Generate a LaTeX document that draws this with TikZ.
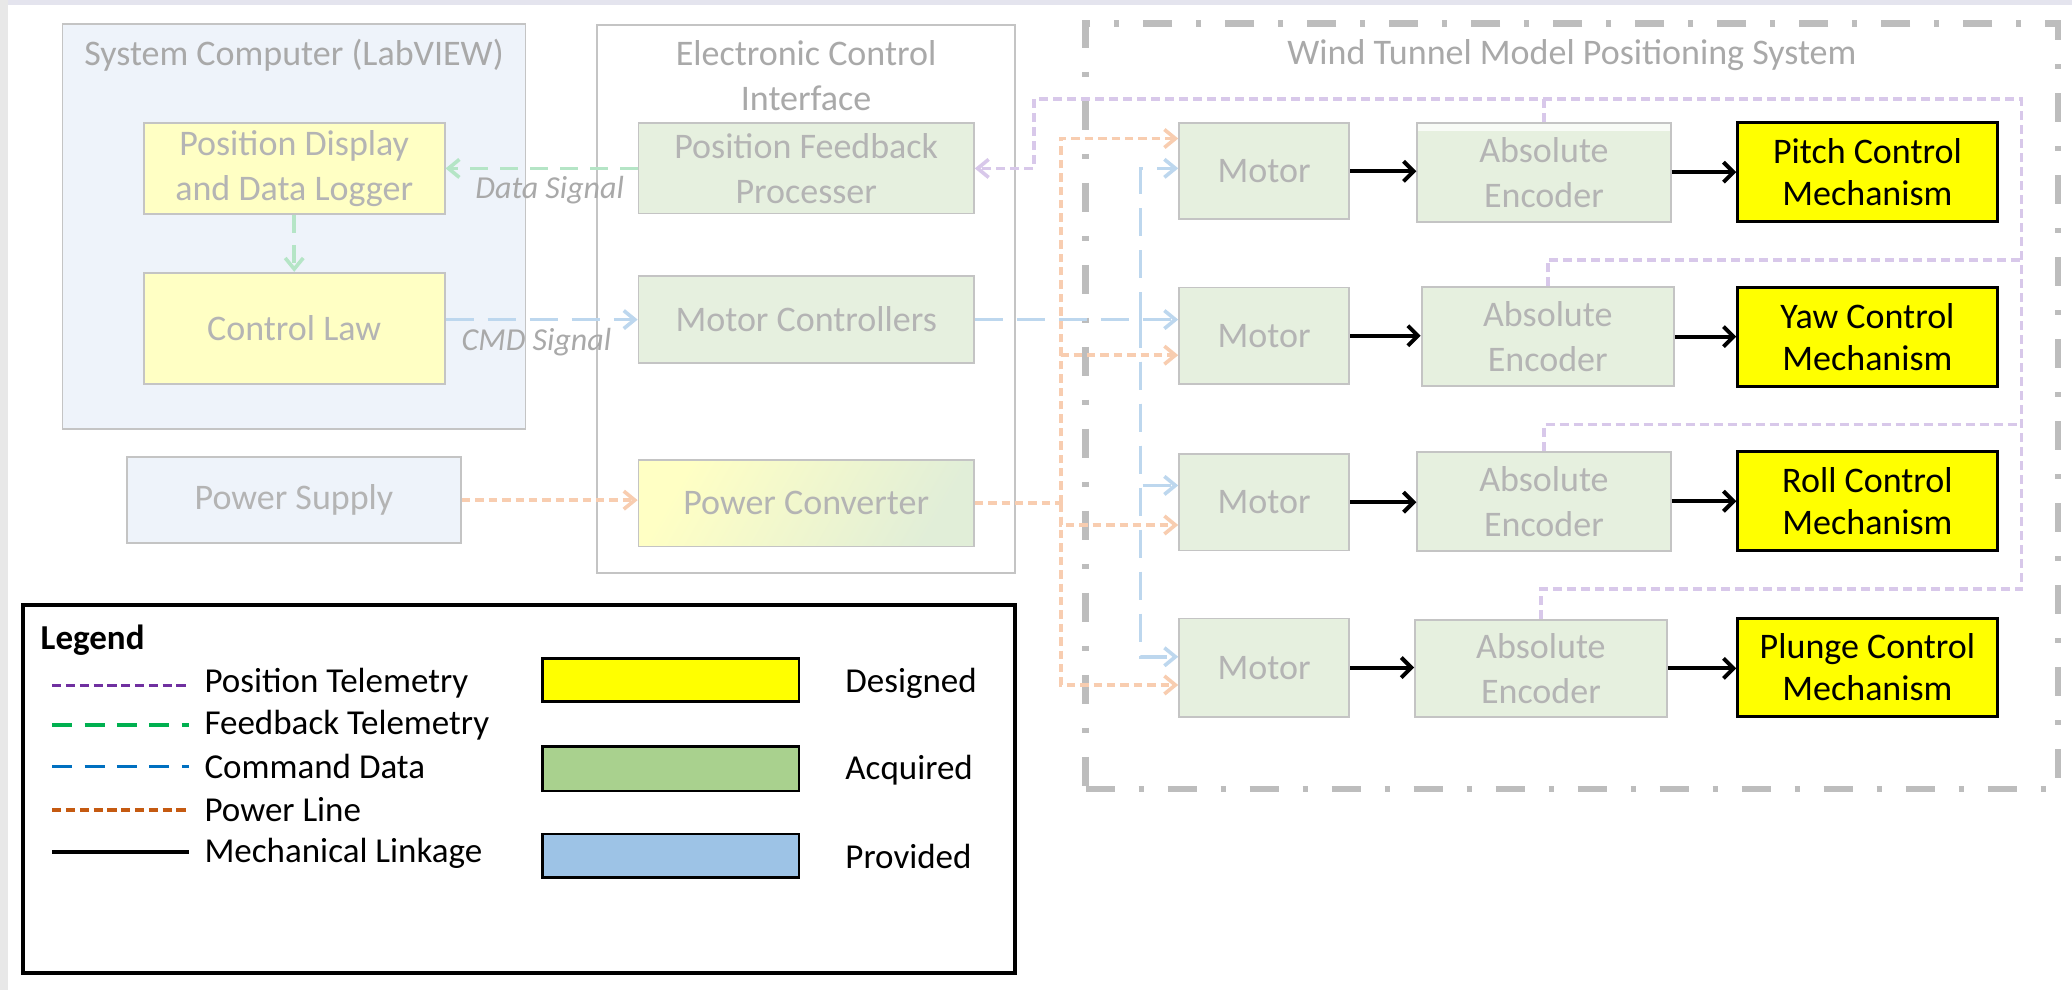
\documentclass[tikz,border=0pt]{standalone}
\usepackage{fontspec}
\setmainfont{Carlito}
\usetikzlibrary{arrows.meta,calc}

% palette
\definecolor{txtgray}{HTML}{B4B4B4}
\definecolor{ttlgray}{HTML}{A9A9A9}
\definecolor{edgegray}{HTML}{C4C4C4}
\definecolor{framegray}{HTML}{BDBDBD}
\definecolor{pcblue}{HTML}{EEF3FA}
\definecolor{ltyellow}{HTML}{FFFFC4}
\definecolor{ltgreen}{HTML}{E6F0DF}
\definecolor{gradgreen}{HTML}{E1EED8}
\definecolor{fbgreen}{HTML}{B5E5C6}
\definecolor{cmdblue}{HTML}{BDD7EE}
\definecolor{pwrorange}{HTML}{F8CDB0}
\definecolor{telpurple}{HTML}{D8C8EA}
\definecolor{legpurple}{HTML}{7030A0}
\definecolor{leggreen}{HTML}{00B050}
\definecolor{legblue}{HTML}{0070C0}
\definecolor{legorange}{HTML}{C55A11}
\definecolor{designed}{HTML}{FFFF00}
\definecolor{acquired}{HTML}{A9D18E}
\definecolor{provided}{HTML}{9DC3E6}
\definecolor{topband}{HTML}{E4E4EE}
\definecolor{sideband}{HTML}{E8E8E8}

\newcommand\dgmfont{\fontsize{18}{22.5}\selectfont}
\newcommand\mechfont{\fontsize{18}{21}\selectfont}
\newcommand\legfont{\fontsize{17.5}{21}\selectfont}

\begin{document}
\begin{tikzpicture}[x=0.6607pt,y=-0.6607pt,
  % a rectangle given by its corners x1/y1/x2/y2 in drawing units
  rect/.style args={#1/#2/#3/#4}{rectangle, inner sep=0pt,
      minimum width={(#3-#1)*0.6607pt}, minimum height={(#4-#2)*0.6607pt},
      at={({(#1+#3)/2},{(#2+#4)/2})}},
  box/.style={draw=edgegray, line width=0.9pt, inner sep=0pt, align=center,
              text=txtgray, font=\dgmfont},
  grbox/.style={box, fill=ltgreen},
  ylbox/.style={box, fill=ltyellow},
  mechbox/.style={draw=black, line width=1.4pt, fill=designed, inner sep=0pt,
                  align=center, text=black, font=\mechfont},
  ttl/.style={text=ttlgray, font=\dgmfont, align=center, inner sep=0pt},
  siglbl/.style={text=ttlgray, font=\fontsize{16}{19}\selectfont\itshape, inner sep=0pt},
  tip/.style={-{Straight Barb[length=5.5pt,width=9pt]}},
  fbl/.style={draw=fbgreen, line width=1.8pt, dash pattern=on 9pt off 6pt},
  cmdl/.style={draw=cmdblue, line width=1.8pt, dash pattern=on 14pt off 7pt},
  pwl/.style={draw=pwrorange, line width=1.8pt, dash pattern=on 4.2pt off 2.5pt},
  ptl/.style={draw=telpurple, line width=1.8pt, dash pattern=on 4.5pt off 2.5pt},
  mech/.style={draw=black, line width=2pt, -{Straight Barb[length=5pt,width=10pt]}},
  legtxt/.style={anchor=west, inner sep=0pt, font=\legfont, text=black},
  legsw/.style={draw=black, line width=1.2pt}
]
% canvas
\fill[white] (0,0) rectangle (1568,749);
\useasboundingbox (0,0) rectangle (1568,749);
\fill[topband] (0,0) rectangle (1568,3.8);
\fill[sideband] (0,0) rectangle (6,749);

% ---------- System computer ----------
\node[draw=edgegray, line width=0.9pt, fill=pcblue, rect=47.3/18.4/397.6/324.9] (sc) {};
\node[ttl] (sctitle) at (222.5,41.6) {System Computer (LabVIEW)};
\node[ylbox, rect=108.8/93.3/336.5/162] (pd) {Position Display\\and Data Logger};
\node[ylbox, rect=108.8/206.4/336.5/290.6] (cl) {Control Law};
\node[box, fill=pcblue, rect=96/346/349/411] (ps) {Power Supply};

% ---------- Electronic control interface ----------
\node[draw=edgegray, line width=0.9pt, fill=white, rect=451.8/18.8/768.4/433.6] (eci) {};
\node[ttl] (ecititle) at (610,57.2) {Electronic Control\\Interface};
\node[grbox, rect=483.2/93.3/737/161.6] (pfp) {Position Feedback\\Processer};
\node[grbox, rect=483.2/209.1/737/274.6] (mc) {Motor Controllers};
\node[box, left color=ltyellow, right color=gradgreen, shading angle=60,
      rect=483.2/348.1/737/413.6] (pc) {Power Converter};

% ---------- Wind tunnel model positioning system ----------
\node[draw=framegray, line width=3.2pt,
      dash pattern=on 14.5pt off 12pt on 2.5pt off 12pt,
      rect=821.6/17.7/1557.4/597.3] (wt) {};
\node[ttl] (wttitle) at (1189.6,41.6) {Wind Tunnel Model Positioning System};

\node[grbox, rect=892.3/93.3/1021/166] (m1) {Motor};
\node[grbox, rect=892.3/217.6/1021/290.6] (m2) {Motor};
\node[grbox, rect=892.3/343.5/1021/416.6] (m3) {Motor};
\node[grbox, rect=892.3/468/1021/542.4] (m4) {Motor};

\node[grbox, rect=1072.5/92.8/1264.3/167.8] (e1) {Absolute\\Encoder};
\fill[white, opacity=0.75] (1073.2,93.5) rectangle (1263.6,99.5);
\node[grbox, rect=1075.8/217.4/1266.8/292.1] (e2) {Absolute\\Encoder};
\node[grbox, rect=1072.5/341.8/1264.3/416.8] (e3) {Absolute\\Encoder};
\node[grbox, rect=1070.8/469.2/1261.4/542.4] (e4) {Absolute\\Encoder};

\node[mechbox, rect=1315/92.8/1511.4/167.8] (k1) {Pitch Control\\Mechanism};
\node[mechbox, rect=1315/217.4/1511.4/292.6] (k2) {Yaw Control\\Mechanism};
\node[mechbox, rect=1315/341.8/1511.4/416.8] (k3) {Roll Control\\Mechanism};
\node[mechbox, rect=1315/468/1511.4/542.4] (k4) {Plunge Control\\Mechanism};

% ---------- mechanical linkages ----------
\foreach \i in {1,...,4}{
  \draw[mech] (m\i.east) -- (m\i.east -| e\i.west);
  \draw[mech] (e\i.east) -- (e\i.east -| k\i.west);
}

% ---------- feedback telemetry and command data ----------
\draw[fbl, tip] (pfp.west) -- (pfp.west -| pd.east);
\node[siglbl] (dsig) at (416,144) {Data Signal};
\draw[fbl, tip] (pd.south) -- (cl.north);
\draw[cmdl, tip] (mc.west -| cl.east) -- (mc.west);
\node[siglbl] (csig) at (406,258.6) {CMD Signal};

\coordinate (bj) at (863,241.85);
\draw[cmdl, tip] (mc.east) -- (mc.east -| m2.west);
\draw[cmdl, tip] (bj) |- ([yshift=1.5pt]m1.west);
\draw[cmdl, tip] (bj) |- ([yshift=8.4pt]m3.west);
\draw[cmdl, tip] (bj) |- ([yshift=5.4pt]m4.west);

% ---------- power lines ----------
\draw[pwl, tip] (ps.east) -- (ps.east -| pc.west);
\coordinate (pj) at (802.8,380.85);
\draw[pwl] (pc.east) -- (pj);
\draw[pwl, tip] (pj) |- ([yshift=16.4pt]m1.west);
\draw[pwl, tip] (pj) |- ([yshift=-9.7pt]m2.west);
\draw[pwl, tip] (pj) |- ([yshift=-11.4pt]m3.west);
\draw[pwl, tip] (pj) |- ([yshift=-8.7pt]m4.west);

% ---------- position telemetry bus ----------
\coordinate (tbL) at (782.5,75);
\coordinate (tbR) at (1529.7,75);
\coordinate (r2) at (1529.7,196.8);
\coordinate (r3) at (1529.7,321.1);
\coordinate (r4) at (1529.7,445.8);
\draw[ptl, tip] (e4.north) |- (r4) -- (tbR) -- (tbL) |- (pfp.east);
\draw[ptl] (e3.north) |- (r3);
\draw[ptl] (e2.north) |- (r2);
\draw[ptl] (e1.north) -- (e1.north |- tbL);

% ---------- legend ----------
\node[draw=black, line width=2pt, rect=17.7/457.8/767.8/736.6] (leg) {};
\node[legtxt, font=\legfont\bfseries] (legttl) at (30.5,484.3) {Legend};

\draw[legpurple, line width=1.6pt, dash pattern=on 4.6pt off 2.3pt] (39.5,518.9) -- (143.4,518.9);
\draw[leggreen, line width=1.6pt, dash pattern=on 10pt off 6.2pt] (39.5,548.7) -- (143.4,548.7);
\draw[legblue, line width=1.6pt, dash pattern=on 10pt off 6.2pt] (39.5,580.2) -- (143.4,580.2);
\draw[legorange, line width=1.6pt, dash pattern=on 4.6pt off 2.3pt] (39.5,613) -- (143.4,613);
\draw[black, line width=2pt] (39.5,645) -- (143.4,645);

\node[legtxt] (l1) at (154.5,517) {Position Telemetry};
\node[legtxt] (l2) at (154.5,548.5) {Feedback Telemetry};
\node[legtxt] (l3) at (154.5,580) {Command Data};
\node[legtxt] (l4) at (154.5,613) {Power Line};
\node[legtxt] (l5) at (154.5,646) {Mechanical Linkage};

\node[legsw, fill=designed, rect=410.5/498.2/604.6/531] (sw1) {};
\node[legsw, fill=acquired, rect=410.5/565/604.6/598.4] (sw2) {};
\node[legsw, fill=provided, rect=410.5/631/604.6/664] (sw3) {};
\node[legtxt] (d1) at (639.5,517) {Designed};
\node[legtxt] (d2) at (639.5,582.7) {Acquired};
\node[legtxt] (d3) at (639.5,648.3) {Provided};
\end{tikzpicture}
\end{document}
